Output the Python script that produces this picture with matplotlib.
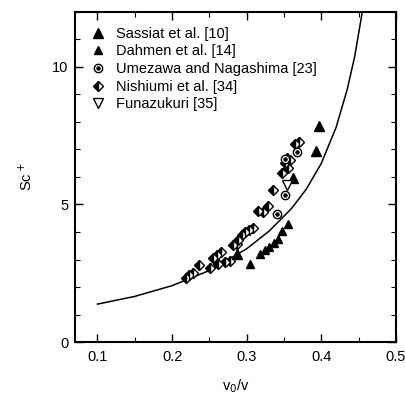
import matplotlib
matplotlib.use("Agg")
import matplotlib.pyplot as plt
from matplotlib.legend_handler import HandlerTuple
from matplotlib.ticker import MultipleLocator

plt.rcParams['font.family'] = ['Liberation Sans', 'DejaVu Sans']

# model curve
curve_x = [0.10, 0.15, 0.20, 0.25, 0.30, 0.33, 0.36, 0.38, 0.40, 0.42, 0.435, 0.445, 0.455]
curve_y = [1.38, 1.66, 2.05, 2.60, 3.39, 4.03, 4.85, 5.56, 6.49, 7.81, 9.20, 10.4, 12.0]

sassiat_x = [0.287, 0.362, 0.393, 0.397]
sassiat_y = [3.20, 5.95, 6.95, 7.85]

dahmen_x = [0.305, 0.318, 0.324, 0.330, 0.336, 0.342, 0.348, 0.355]
dahmen_y = [2.85, 3.20, 3.33, 3.45, 3.60, 3.75, 4.05, 4.30]

umezawa_x = [0.340, 0.351, 0.352, 0.368]
umezawa_y = [4.65, 5.35, 6.65, 6.90]

nishiumi_x = [0.218, 0.223, 0.228, 0.236, 0.251, 0.255, 0.260, 0.265, 0.262, 0.271,
              0.278, 0.282, 0.287, 0.289, 0.294, 0.298, 0.303, 0.309, 0.315, 0.322,
              0.329, 0.335, 0.347, 0.351, 0.354, 0.356, 0.358, 0.365, 0.370]
nishiumi_y = [2.32, 2.43, 2.50, 2.79, 2.68, 3.04, 3.15, 3.26, 2.83, 2.90,
              2.95, 3.51, 3.55, 3.70, 3.88, 3.99, 4.09, 4.13, 4.75, 4.71,
              4.96, 5.54, 6.14, 6.50, 6.70, 6.34, 6.60, 7.20, 7.28]

funazukuri_x = [0.354]
funazukuri_y = [5.70]

fig = plt.figure(figsize=(4.06, 3.95), dpi=100)
ax = fig.add_axes([0.185, 0.134, 0.79, 0.836])

ax.plot(curve_x, curve_y, color='black', lw=1.1, zorder=1)

h_nis, = ax.plot(nishiumi_x, nishiumi_y, ls='none', marker='D', ms=5.5, fillstyle='left',
                 mfc='black', mfcalt='white', mec='black', mew=1.0, zorder=2)
h_dah, = ax.plot(dahmen_x, dahmen_y, ls='none', marker='^', ms=5.5, mfc='black',
                 mec='black', zorder=3)
h_sas, = ax.plot(sassiat_x, sassiat_y, ls='none', marker='^', ms=6.5, mfc='black',
                 mec='black', zorder=3)
h_um1, = ax.plot(umezawa_x, umezawa_y, ls='none', marker='o', ms=6, mfc='white',
                 mec='black', mew=1.0, zorder=3)
h_um2, = ax.plot(umezawa_x, umezawa_y, ls='none', marker='o', ms=2.2, mfc='black',
                 mec='black', zorder=4)
h_fun, = ax.plot(funazukuri_x, funazukuri_y, ls='none', marker='v', ms=6.5, mfc='white',
                 mec='black', mew=1.0, zorder=3)

ax.set_xlim(0.07, 0.5)
ax.set_ylim(0, 12)
ax.xaxis.set_minor_locator(MultipleLocator(0.05))
ax.yaxis.set_major_locator(MultipleLocator(5))
ax.yaxis.set_minor_locator(MultipleLocator(1))
ax.set_xticks([0.1, 0.2, 0.3, 0.4, 0.5])
ax.set_xticklabels(['0.1', '0.2', '0.3', '0.4', '0.5'])
ax.tick_params(which='both', direction='in', top=True, right=True, labelsize=10.5)
ax.tick_params(which='major', length=6, width=1)
ax.tick_params(which='minor', length=3.5, width=0.8)
ax.tick_params(axis='x', which='major', pad=6)
ax.tick_params(axis='y', which='major', pad=5)
for s in ax.spines.values():
    s.set_linewidth(1.5)

ax.set_xlabel('v$_0$/v', fontsize=10.5, labelpad=9)
ax.set_ylabel('Sc$^+$', fontsize=10.5, labelpad=12)

ax.legend([h_sas, h_dah, (h_um1, h_um2), h_nis, h_fun],
          ['Sassiat et al. [10]', 'Dahmen et al. [14]', 'Umezawa and Nagashima [23]',
           'Nishiumi et al. [34]', 'Funazukuri [35]'],
          handler_map={tuple: HandlerTuple(ndivide=1)},
          loc='upper left', bbox_to_anchor=(0.05, 0.955), frameon=False,
          fontsize=10.5, handlelength=1.0, handletextpad=0.7, labelspacing=0.25,
          borderaxespad=0, borderpad=0)

fig.savefig('out.png', dpi=100)
